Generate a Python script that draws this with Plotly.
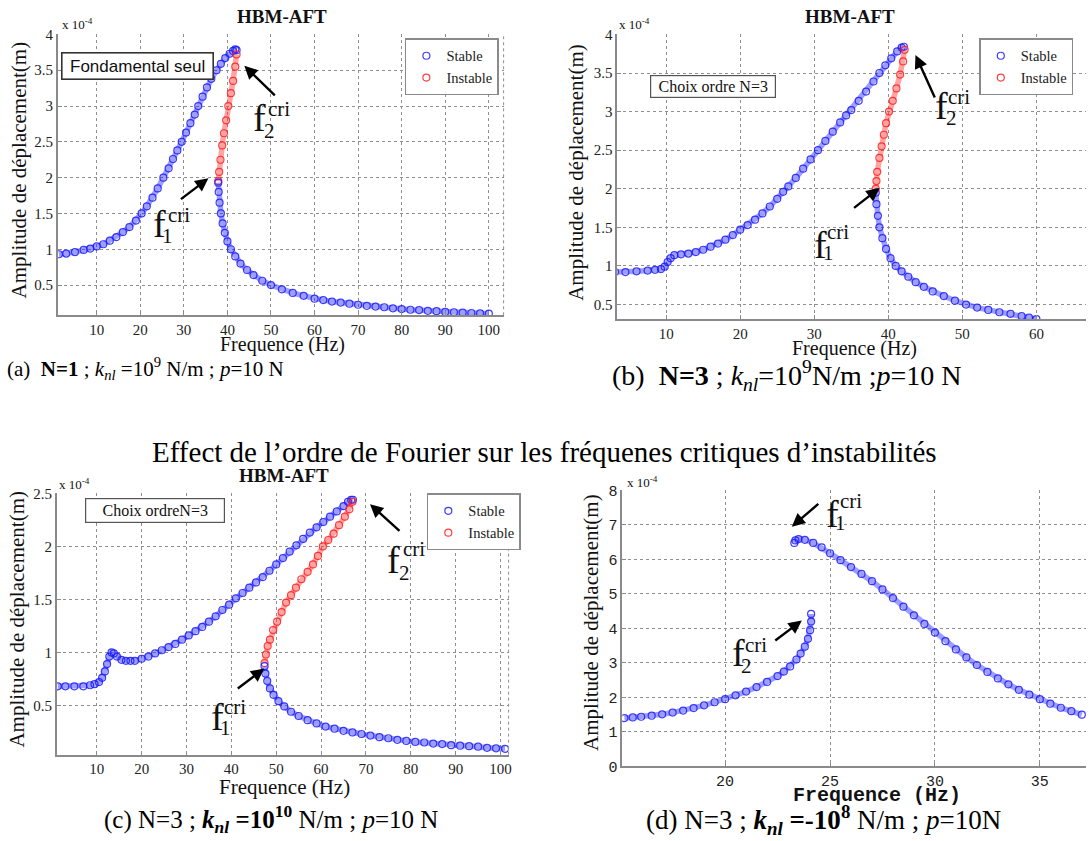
import plotly.graph_objects as go

# ---------------- data : frequency (Hz) , amplitude (x 1e-4 m) ----------------
# (a) N=1
a_up_f = [1.3, 3, 5, 7, 8.5, 10, 11.5, 13, 14.5, 16, 17.5, 19, 20.3, 21.5, 22.8, 24, 25.3, 26.5, 27.5, 28.5,
          29.5, 30.5, 31.5, 32.5, 33.3, 34.3, 35.3, 36.3, 37.5, 38.5, 39.5, 40.5, 41.3, 41.8, 42.1]
a_up_y = [0.93, 0.94, 0.96, 0.99, 1.01, 1.04, 1.07, 1.12, 1.17, 1.24, 1.31, 1.40, 1.50, 1.60, 1.72, 1.85, 2.00, 2.13,
          2.26, 2.38, 2.50, 2.63, 2.76, 2.88, 3.00, 3.13, 3.26, 3.38, 3.50, 3.59, 3.67, 3.73, 3.77, 3.79, 3.78]
a_in_f = [42.1, 41.8, 41.3, 40.8, 40.2, 39.7, 39.2, 38.8, 38.4, 38.1, 37.9]
a_in_y = [3.72, 3.55, 3.35, 3.18, 3.00, 2.80, 2.62, 2.45, 2.25, 2.08, 1.95]
a_lo_f = [37.9, 38.0, 38.2, 38.5, 38.9, 39.4, 40.0, 40.8, 41.8, 43.0, 44.5, 46.0, 48.0, 50.0, 52.5, 55.0, 57.5,
          60, 62, 64, 66, 68, 70, 72, 74, 76, 78, 80, 82, 84, 86, 88, 90, 92, 94, 96, 98, 100]
a_lo_y = [1.93, 1.80, 1.65, 1.50, 1.36, 1.23, 1.11, 1.00, 0.90, 0.80, 0.71, 0.64, 0.56, 0.50, 0.44, 0.39, 0.35,
          0.31, 0.29, 0.27, 0.255, 0.24, 0.225, 0.21, 0.20, 0.19, 0.175, 0.165, 0.155, 0.15, 0.14, 0.135, 0.125,
          0.12, 0.115, 0.11, 0.105, 0.10]

# (b) N=3, knl=1e9
b_up_f = [3.1, 4.5, 6, 7.5, 8.5, 9.3, 9.8, 10.2, 10.6, 11.1, 12, 13, 14, 15, 16, 17, 18, 19, 20, 21, 22, 23, 24, 25,
          25.8, 26.5, 27.5, 28.5, 29.5, 30.5, 31.5, 32.5, 33.5, 34.3, 35, 36, 37, 38, 38.8, 39.6, 40.4, 41.2, 41.8, 42.1]
b_up_y = [0.92, 0.92, 0.93, 0.94, 0.95, 0.96, 0.99, 1.05, 1.10, 1.14, 1.15, 1.16, 1.18, 1.21, 1.25, 1.29, 1.34, 1.40,
          1.47, 1.53, 1.60, 1.68, 1.77, 1.87, 1.96, 2.03, 2.14, 2.26, 2.38, 2.50, 2.62, 2.74, 2.86, 2.95, 3.02, 3.14,
          3.26, 3.39, 3.50, 3.60, 3.69, 3.78, 3.83, 3.84]
b_in_f = [42.2, 42.0, 41.6, 41.1, 40.6, 40.1, 39.7, 39.4, 39.1, 38.8, 38.5, 38.4, 38.3]
b_in_y = [3.80, 3.65, 3.48, 3.30, 3.14, 3.00, 2.85, 2.70, 2.55, 2.40, 2.22, 2.10, 2.00]
b_lo_f = [38.3, 38.4, 38.6, 38.8, 39.2, 39.7, 40.3, 41.0, 41.8, 42.7, 43.7, 44.8, 46, 47.5, 49, 50.5, 52, 53.5, 55,
          56.5, 58, 59, 60]
b_lo_y = [1.95, 1.80, 1.65, 1.50, 1.36, 1.22, 1.10, 1.00, 0.93, 0.86, 0.79, 0.73, 0.67, 0.61, 0.55, 0.50, 0.46,
          0.43, 0.40, 0.38, 0.35, 0.33, 0.31]

# (c) N=3, knl=1e10
c_up_f = [1.3, 3, 5, 7, 8.5, 9.5, 10.5, 11.2, 11.8, 12.3, 12.8, 13.3, 13.8, 14.5, 15.5, 16.5, 17.5, 18.5, 20, 21.5,
          23, 24.5, 26, 27.5, 29, 30.5, 32, 33.5, 35, 36.5, 38, 39.5, 41, 42.5, 44, 45.5, 47, 48.5, 50, 51.5, 53,
          54.5, 56, 57.5, 59, 60.5, 62, 63.5, 65, 66, 66.7, 67.1]
c_up_y = [0.68, 0.68, 0.68, 0.68, 0.69, 0.70, 0.72, 0.76, 0.82, 0.89, 0.96, 1.00, 0.99, 0.96, 0.93, 0.92, 0.92,
          0.92, 0.94, 0.96, 0.99, 1.02, 1.05, 1.08, 1.12, 1.16, 1.20, 1.24, 1.29, 1.34, 1.40, 1.45, 1.51, 1.56,
          1.61, 1.66, 1.71, 1.77, 1.83, 1.89, 1.95, 2.01, 2.07, 2.13, 2.18, 2.23, 2.28, 2.33, 2.38, 2.42, 2.44, 2.44]
c_in_f = [67.0, 66.3, 65.3, 64.0, 62.8, 61.6, 60.4, 59.3, 58.2, 57.0, 55.6, 54.4, 53.3, 52.2, 51.2, 50.2, 49.3,
          48.6, 48.1, 47.7, 47.4]
c_in_y = [2.42, 2.35, 2.28, 2.20, 2.12, 2.06, 2.00, 1.91, 1.83, 1.76, 1.69, 1.61, 1.54, 1.47, 1.38, 1.29, 1.21,
          1.12, 1.06, 0.98, 0.90]
c_lo_f = [47.4, 47.6, 48.0, 48.6, 49.4, 50.5, 51.8, 53.3, 55, 57, 59, 61, 63, 65, 67, 69, 71, 73, 75, 77, 79, 81,
          83, 85, 87, 89, 91, 93, 95, 97, 99, 101]
c_lo_y = [0.87, 0.80, 0.73, 0.66, 0.60, 0.54, 0.49, 0.44, 0.40, 0.36, 0.33, 0.30, 0.28, 0.26, 0.245, 0.23, 0.215,
          0.20, 0.19, 0.175, 0.165, 0.155, 0.15, 0.14, 0.135, 0.125, 0.12, 0.115, 0.11, 0.10, 0.095, 0.09]

# (d) N=3, knl=-1e8
d_lo_f = [15.2, 15.6, 16.0, 16.5, 17.0, 17.5, 18.0, 18.5, 19.0, 19.5, 20.0, 20.5, 21.0, 21.5, 22.0, 22.5, 22.8,
          23.1, 23.4, 23.6, 23.8, 23.95, 24.05, 24.1, 24.1]
d_lo_y = [1.40, 1.42, 1.44, 1.47, 1.51, 1.56, 1.62, 1.69, 1.77, 1.86, 1.95, 2.06, 2.17, 2.30, 2.45, 2.62, 2.75,
          2.90, 3.10, 3.27, 3.47, 3.70, 3.95, 4.20, 4.42]
d_up_f = [23.3, 23.35, 23.5, 23.8, 24.2, 24.6, 25.0, 25.5, 26.0, 26.5, 27.0, 27.5, 28.0, 28.5, 29.0, 29.5, 30.0,
          30.5, 31.0, 31.5, 32.0, 32.5, 33.0, 33.5, 34.0, 34.5, 35.0, 35.5, 36.0, 36.5, 37.0]
d_up_y = [6.48, 6.55, 6.59, 6.57, 6.48, 6.35, 6.18, 5.98, 5.78, 5.58, 5.37, 5.13, 4.88, 4.63, 4.38, 4.13, 3.88,
          3.63, 3.39, 3.16, 2.94, 2.74, 2.55, 2.38, 2.22, 2.08, 1.95, 1.82, 1.70, 1.60, 1.50]

# tick values
a_xticks = [10, 20, 30, 40, 50, 60, 70, 80, 90, 100]
a_yticks = [0.5, 1, 1.5, 2, 2.5, 3, 3.5, 4]
b_xticks = [10, 20, 30, 40, 50, 60]
b_yticks = [0.5, 1, 1.5, 2, 2.5, 3, 3.5, 4]
c_xticks = [10, 20, 30, 40, 50, 60, 70, 80, 90, 100]
c_yticks = [0.5, 1, 1.5, 2, 2.5]
d_xticks = [20, 25, 30, 35]
d_yticks = [0, 1, 2, 3, 4, 5, 6, 7, 8]

# ---------------- helpers (page pixels -> paper) ----------------
W, H = 1089, 841


def PX(p):
    return p / W


def PY(p):
    return 1 - p / H


SERIF = "Liberation Serif"
SANS = "Liberation Sans"
MONO = "Liberation Mono"
BLUE = "rgba(25,25,255,0.85)"
BLUE_BAND = "rgba(40,40,255,0.45)"
RED = "rgba(255,30,30,0.85)"
RED_BAND = "rgba(255,50,50,0.45)"

fig = go.Figure()


def add_branch(fx, fy, k, color, band, name, legend, showleg):
    xa = "x" if k == 1 else "x%d" % k
    ya = "y" if k == 1 else "y%d" % k
    fig.add_trace(go.Scatter(x=fx, y=fy, xaxis=xa, yaxis=ya, mode="lines",
                             line=dict(color=band, width=5.5), showlegend=False, hoverinfo="skip"))
    fig.add_trace(go.Scatter(x=fx, y=fy, xaxis=xa, yaxis=ya, mode="markers",
                             marker=dict(symbol="circle-open", size=7, color=color, line=dict(width=1.2)),
                             name=name, legend=legend, showlegend=showleg))


add_branch(a_up_f, a_up_y, 1, BLUE, BLUE_BAND, "Stable", "legend", True)
add_branch(a_in_f, a_in_y, 1, RED, RED_BAND, "Instable", "legend", True)
add_branch(a_lo_f, a_lo_y, 1, BLUE, BLUE_BAND, "Stable", "legend", False)

add_branch(b_up_f, b_up_y, 2, BLUE, BLUE_BAND, "Stable", "legend2", True)
add_branch(b_in_f, b_in_y, 2, RED, RED_BAND, "Instable", "legend2", True)
add_branch(b_lo_f, b_lo_y, 2, BLUE, BLUE_BAND, "Stable", "legend2", False)

add_branch(c_up_f, c_up_y, 3, BLUE, BLUE_BAND, "Stable", "legend3", True)
add_branch(c_in_f, c_in_y, 3, RED, RED_BAND, "Instable", "legend3", True)
add_branch(c_lo_f, c_lo_y, 3, BLUE, BLUE_BAND, "Stable", "legend3", False)

add_branch(d_lo_f, d_lo_y, 4, BLUE, BLUE_BAND, "Stable", "legend", False)
add_branch(d_up_f, d_up_y, 4, BLUE, BLUE_BAND, "Stable", "legend", False)


def axis(dom, rng, ticks, anchor, fam, size):
    return dict(domain=dom, range=rng, tickmode="array", tickvals=ticks, anchor=anchor,
                showline=True, linecolor="#8a8a8a", linewidth=1.6, mirror=False,
                ticks="inside", ticklen=4, tickcolor="#8a8a8a",
                showgrid=True, gridcolor="#8f8f8f", griddash="dot", gridwidth=1, zeroline=False,
                tickfont=dict(family=fam, size=size, color="#222"))


layout_axes = dict(
    xaxis=axis([PX(58), PX(505)], [1.07, 103.4], a_xticks, "y", SERIF, 15),
    yaxis=axis([PY(314), PY(27)], [0.078, 4], a_yticks, "x", SERIF, 15),
    xaxis2=axis([PX(619), 1.0], [3.4, 66.7], b_xticks, "y2", SERIF, 15),
    yaxis2=axis([PY(318), PY(27)], [0.31, 4], b_yticks, "x2", SERIF, 15),
    xaxis3=axis([PX(57), PX(510)], [1.1, 101.8], c_xticks, "y3", SERIF, 15),
    yaxis3=axis([PY(763), PY(496)], [0.035, 2.5], c_yticks, "x3", SERIF, 15),
    xaxis4=axis([PX(624), 1.0], [15.1, 37.2], d_xticks, "y4", MONO, 15),
    yaxis4=axis([PY(775), PY(493)], [0, 8], d_yticks, "x4", MONO, 15),
)

ann = []


def text(x, y, s, size, fam=SERIF, xanchor="center", color="#111", angle=0, **kw):
    ann.append(dict(x=PX(x), y=PY(y), xref="paper", yref="paper", text=s, showarrow=False,
                    xanchor=xanchor, yanchor="middle", textangle=angle,
                    font=dict(family=fam, size=size, color=color), **kw))


def arrow(hx, hy, tx, ty):
    ann.append(dict(x=PX(hx), y=PY(hy), xref="paper", yref="paper", ax=tx - hx, ay=ty - hy,
                    axref="pixel", ayref="pixel", text="", showarrow=True, arrowhead=2,
                    arrowsize=1.1, arrowwidth=2.4, arrowcolor="#000"))


def flabel(fx, fy, cx, cy, dx, dy, digit):
    text(fx, fy, "f", 38)
    text(cx, cy, "cri", 21)
    text(dx, dy, digit, 21)


# titles
for (x, y) in [(283, 9), (852, 9), (285, 478)]:
    text(x, y, "<b>HBM-AFT</b>", 19)
# exponent labels
for (x, y) in [(60, 16), (619, 16), (57, 486), (627, 484)]:
    text(x, y, "x 10<sup>-4</sup>", 13, xanchor="left")
# y titles
for (x, y) in [(20, 165), (578, 168), (17, 624), (592, 628)]:
    text(x, y, "Amplitude de déplacement(m)", 21, angle=-90)
# x titles
text(283, 344, "Frequence (Hz)", 20)
text(857, 348, "Frequence (Hz)", 20)
text(285, 796, "Frequence (Hz)", 21)
text(879, 805, "<b>Frequence (Hz)</b>", 20, fam=MONO)

# boxes
text(138, 59, "Fondamental seul", 17, fam=SANS, bordercolor="#333", borderwidth=1.6, borderpad=0,
     bgcolor="white", width=150, height=25)
text(715, 80, "Choix ordre N=3", 16, bordercolor="#555", borderwidth=1.2, borderpad=0, bgcolor="white",
     width=124, height=21)
text(155, 513, "Choix ordreN=3", 16, bordercolor="#555", borderwidth=1.2, borderpad=0, bgcolor="white",
     width=138, height=23)

# critical frequency arrows + labels
arrow(245, 59, 277, 90)
flabel(260, 112, 280, 103, 270, 126, "2")
arrow(209, 174, 180, 196)
flabel(160, 221, 179, 212, 168, 233, "1")

arrow(918, 48, 938, 92)
flabel(944, 100, 962, 91, 954, 112, "2")
arrow(882, 184, 855, 205)
flabel(823, 242, 840, 229, 831, 250, "1")

arrow(371, 507, 402, 535)
flabel(395, 564, 415, 553, 406, 577, "2")
arrow(265, 675, 237, 696)
flabel(218, 724, 236, 714, 226, 736, "1")

arrow(794, 530, 822, 506)
flabel(835, 517, 853, 504, 843, 526, "1")
arrow(804, 626, 776, 647)
flabel(741, 659, 758, 651, 749, 672, "2")

# captions
text(5, 368, "(a)  <b>N=1</b> ; <i>k<sub>nl</sub></i> =10<sup>9</sup> N/m ; <i>p</i>=10 N", 21, xanchor="left",
     color="#000")
text(612, 376, "(b)  <b>N=3</b> ; <i>k<sub>nl</sub></i>=10<sup>9</sup>N/m ;<i>p</i>=10 N", 28, xanchor="left",
     color="#000")
text(546, 454, "Effect de l’ordre de Fourier sur les fréquenes critiques d’instabilités", 29, color="#000")
text(272, 829, "(c) N=3 ; <b><i>k<sub>nl</sub></i> =10<sup>10</sup></b> N/m ; <i>p</i>=10 N", 25, color="#000")
text(826, 830, "(d) N=3 ; <b><i>k<sub>nl</sub></i> =-10<sup>8</sup></b> N/m ; <i>p</i>=10N", 27, color="#000")

# dotted right borders of boxes (a) and (c)
shapes = [
    dict(type="line", xref="x domain", yref="y domain", x0=1, x1=1, y0=0, y1=1,
         line=dict(color="#8f8f8f", width=1, dash="dot")),
    dict(type="line", xref="x3 domain", yref="y3 domain", x0=1, x1=1, y0=0, y1=1,
         line=dict(color="#8f8f8f", width=1, dash="dot")),
]


def leg(x, y):
    return dict(x=PX(x), y=PY(y), xanchor="left", yanchor="top", bgcolor="white", bordercolor="#8a8a8a",
                borderwidth=1.5, font=dict(family=SERIF, size=14.5, color="#222"), itemwidth=30,
                tracegroupgap=0)


fig.update_layout(
    width=W, height=H, margin=dict(l=0, r=0, t=0, b=0),
    paper_bgcolor="white", plot_bgcolor="white",
    font=dict(family=SERIF),
    annotations=ann, shapes=shapes,
    legend=leg(406, 31), legend2=leg(982, 31), legend3=leg(428, 496),
    **layout_axes,
)

fig.write_html("out.html", config={"displayModeBar": False},
               post_script="document.body.style.margin='0px';document.body.style.overflow='hidden';")
